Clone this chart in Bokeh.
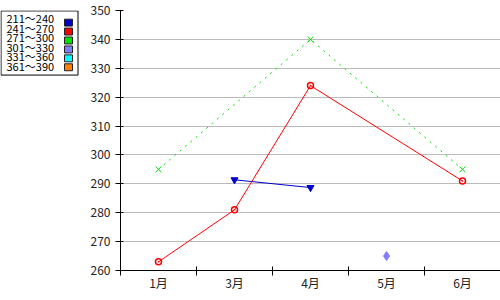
import math
from bokeh.plotting import figure
from bokeh.layouts import row
from bokeh.models import FixedTicker, ColumnDataSource
from bokeh.core.properties import value
from bokeh.embed import file_html
from bokeh.resources import INLINE

# ---- data ----
months = ["1月", "3月", "4月", "5月", "6月"]
legend_labels = ["211～240", "241～270", "271～300", "301～330", "331～360", "361～390"]
legend_colors = ["#0000cc", "#ff0000", "#00e000", "#8080ff", "#00ffff", "#ff8000"]
s211_240 = [None, 291.4, 288.7, None, None]
s241_270 = [263, 281, 324, None, 291]
s271_300 = [295, None, 340, None, 295]
s301_330 = [None, None, None, 265, None]
y_ticks = [260, 270, 280, 290, 300, 310, 320, 330, 340, 350]

FONT = "Noto Sans CJK JP"

def pts(vals):
    xs, ys = [], []
    for i, v in enumerate(vals):
        if v is not None:
            xs.append(i + 0.5)
            ys.append(v)
    return xs, ys

# ---- main chart ----
p = figure(width=420, height=300, x_range=(0, len(months)), y_range=(260, 350),
           output_backend="svg", toolbar_location=None,
           min_border_left=40, min_border_right=0, min_border_top=10, min_border_bottom=30)
p.outline_line_color = None
p.background_fill_color = "white"
p.border_fill_color = "white"
p.xgrid.grid_line_color = None
p.ygrid.grid_line_color = "#bbbbbb"
p.ygrid.ticker = FixedTicker(ticks=y_ticks)

p.yaxis.ticker = FixedTicker(ticks=y_ticks, minor_ticks=[])
p.yaxis.major_tick_in = 3
p.yaxis.major_tick_out = 5
p.yaxis.minor_tick_line_color = None
p.yaxis.major_label_standoff = 5
p.yaxis.major_label_text_font = FONT
p.yaxis.major_label_text_font_size = "12px"
p.yaxis.major_label_text_color = "#222222"
p.yaxis.axis_line_color = "black"
p.yaxis.major_tick_line_color = "black"

centers = [i + 0.5 for i in range(len(months))]
bounds = [float(i) for i in range(len(months) + 1)]
p.xaxis.ticker = FixedTicker(ticks=centers, minor_ticks=bounds)
p.xaxis.major_label_overrides = {c: m for c, m in zip(centers, months)}
p.xaxis.major_tick_line_color = None
p.xaxis.major_tick_in = 0
p.xaxis.major_tick_out = 5
p.xaxis.minor_tick_line_color = "black"
p.xaxis.minor_tick_in = 4
p.xaxis.minor_tick_out = 5
p.xaxis.major_label_standoff = -2
p.xaxis.major_label_text_font = FONT
p.xaxis.major_label_text_font_size = "12px"
p.xaxis.major_label_text_color = "#222222"
p.xaxis.axis_line_color = "black"

# series 211~240
x, y = pts(s211_240)
p.line(x, y, line_color=legend_colors[0], line_width=1)
p.scatter(x, y, marker="inverted_triangle", size=7, fill_color=legend_colors[0],
          line_color=legend_colors[0])
# series 241~270
x, y = pts(s241_270)
p.line(x, y, line_color=legend_colors[1], line_width=1)
p.scatter(x, y, marker="circle_dot", size=6, fill_color=None,
          line_color=legend_colors[1], line_width=1.5)
# series 271~300
x, y = pts(s271_300)
p.line(x, y, line_color=legend_colors[2], line_width=1, line_dash="2 5")
p.scatter(x, y, marker="x", size=8, line_color=legend_colors[2], line_width=1)
# series 301~330
x, y = pts(s301_330)
p.scatter(x, y, marker="diamond", size=9, fill_color=legend_colors[3],
          line_color=legend_colors[3])

# ---- legend panel ----
lg = figure(width=80, height=300, x_range=(0, 80), y_range=(300, 0),
            output_backend="svg", toolbar_location=None,
            min_border=0, min_border_left=0, min_border_right=0,
            min_border_top=0, min_border_bottom=0)
lg.axis.visible = False
lg.grid.visible = False
lg.outline_line_color = None
lg.background_fill_color = "white"
lg.border_fill_color = "white"

n = len(legend_labels)
lg.quad(left=[0.5], right=[77.5], top=[0.5], bottom=[74.5],
        fill_color="white", line_color="black", line_width=1)
text_y = [9 + 10.9 * i for i in range(n)]
lg.text(x=[6] * n, y=text_y, text=legend_labels, text_font=value(FONT),
        text_font_size="11px", text_baseline="middle", text_align="left",
        text_color="black")
sq_y = [14 + 10.3 * i for i in range(n)]
lg.rect(x=[68] * n, y=sq_y, width=8, height=8, fill_color=legend_colors,
        line_color="#222222", line_width=1)

layout = row(lg, p)
open("out.html", "w").write(file_html(layout, INLINE))
